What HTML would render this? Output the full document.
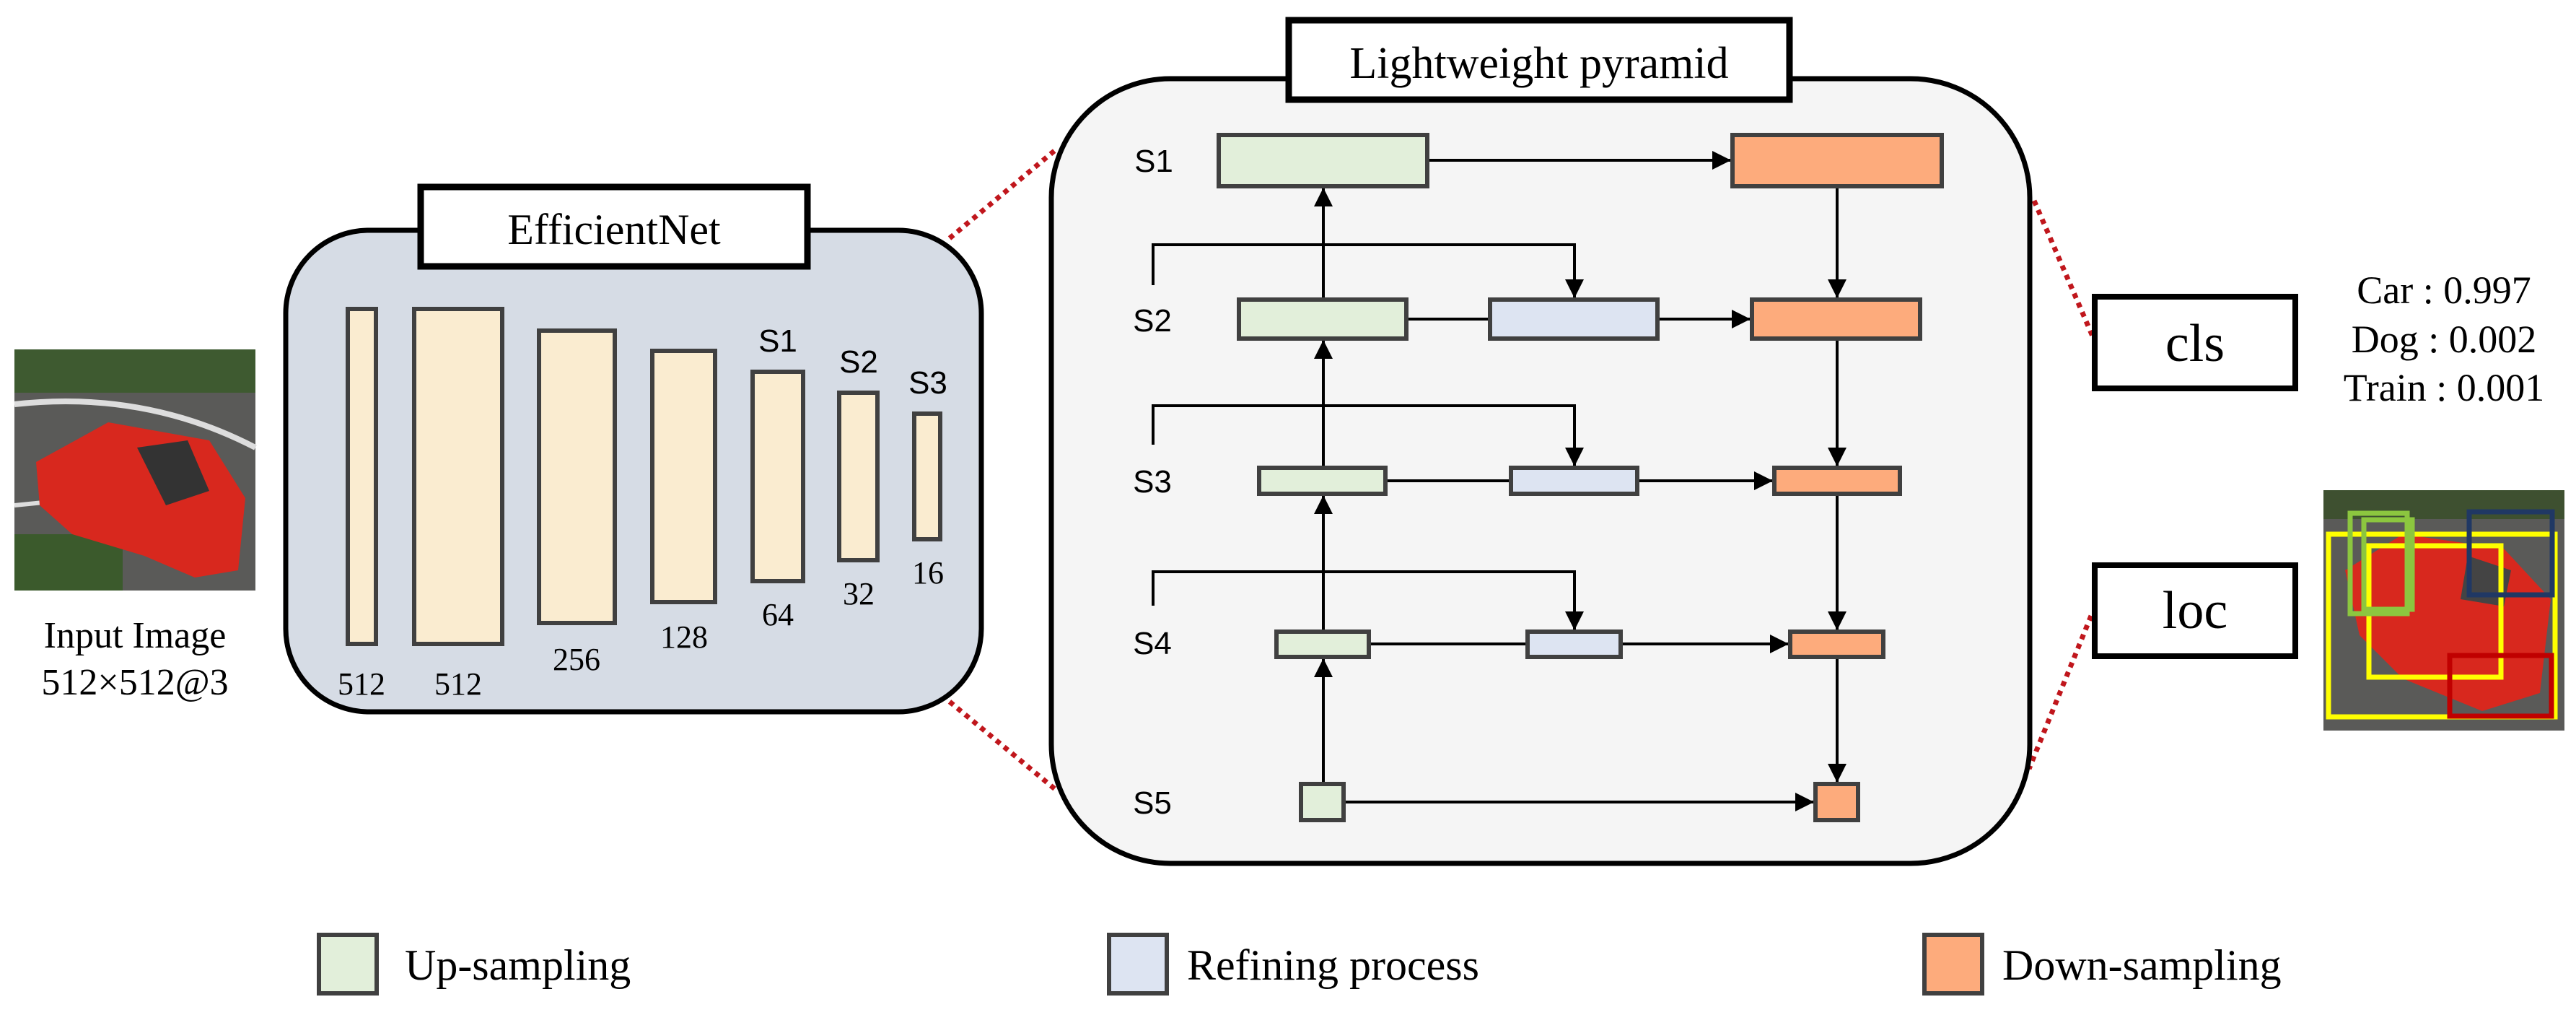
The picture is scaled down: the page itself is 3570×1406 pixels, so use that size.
<!DOCTYPE html>
<html><head><meta charset="utf-8"><style>
html,body{margin:0;padding:0;background:#fff;}
svg{display:block;}
text{font-family:"Liberation Serif",serif;fill:#000;}
.s{font-family:"Liberation Sans",sans-serif;}
</style></head><body>
<svg width="3570" height="1406" viewBox="0 0 3570 1406" xmlns="http://www.w3.org/2000/svg">
<defs>
<marker id="a" viewBox="0 0 10 10" refX="10" refY="5" markerWidth="26" markerHeight="26" markerUnits="userSpaceOnUse" orient="auto"><path d="M0,0 L10,5 L0,10 z" fill="#000"/></marker>
</defs>

<!-- input image -->
<g>
<rect x="20" y="484" width="334" height="334" fill="#5a5a58"/>
<rect x="20" y="484" width="334" height="60" fill="#3e5a30"/>
<path d="M20,560 Q200,540 354,620" stroke="#ddd" stroke-width="8" fill="none"/>
<path d="M20,700 L120,690" stroke="#ddd" stroke-width="6"/>
<rect x="20" y="740" width="150" height="78" fill="#3b5a2c"/>
<path d="M50,640 L150,585 L290,610 L340,690 L330,790 L270,800 L200,770 L100,740 L55,700 Z" fill="#d8281e"/>
<path d="M190,620 L260,610 L290,680 L230,700 Z" fill="#333"/>
</g>
<text x="187" y="897" font-size="52" text-anchor="middle">Input Image</text>
<text x="187" y="962" font-size="52" text-anchor="middle">512×512@3</text>

<!-- EfficientNet -->
<rect x="396" y="319" width="964" height="667" rx="115" fill="#d6dce5" stroke="#000" stroke-width="7"/>
<rect x="583" y="259" width="536" height="110" fill="#fff" stroke="#000" stroke-width="9"/>
<text x="851" y="338" font-size="60" text-anchor="middle">EfficientNet</text>
<g fill="#faecd0" stroke="#404040" stroke-width="6">
<rect x="482" y="428" width="39" height="464"/>
<rect x="574" y="428" width="122" height="464"/>
<rect x="747" y="458" width="105" height="405"/>
<rect x="904" y="486" width="87" height="348"/>
<rect x="1043" y="515" width="70" height="290"/>
<rect x="1163" y="544" width="53" height="232"/>
<rect x="1267" y="573" width="36" height="174"/>
</g>
<g font-size="44" text-anchor="middle">
<text x="501" y="962">512</text>
<text x="635" y="962">512</text>
<text x="799" y="928">256</text>
<text x="948" y="897">128</text>
<text x="1078" y="866">64</text>
<text x="1190" y="837">32</text>
<text x="1286" y="808">16</text>
</g>
<g font-size="44" class="s" text-anchor="middle">
<text x="1078" y="487" class="s">S1</text>
<text x="1190" y="516" class="s">S2</text>
<text x="1286" y="545" class="s">S3</text>
</g>

<!-- dotted connectors -->
<g stroke="#c0161c" stroke-width="7" stroke-dasharray="7,7" fill="none">
<line x1="1316" y1="330" x2="1466" y2="205"/>
<line x1="1316" y1="972" x2="1462" y2="1093"/>
<line x1="2819" y1="278" x2="2901" y2="468"/>
<line x1="2898" y1="853" x2="2812" y2="1065"/>
</g>

<!-- pyramid -->
<rect x="1457" y="109" width="1356" height="1087" rx="165" fill="#f5f5f5" stroke="#000" stroke-width="7"/>
<rect x="1786" y="28" width="694" height="110" fill="#fff" stroke="#000" stroke-width="9"/>
<text x="2133" y="108" font-size="62" text-anchor="middle">Lightweight pyramid</text>

<g font-size="44" class="s" text-anchor="middle">
<text x="1599" y="238" class="s">S1</text>
<text x="1597" y="459" class="s">S2</text>
<text x="1597" y="682" class="s">S3</text>
<text x="1597" y="906" class="s">S4</text>
<text x="1597" y="1127" class="s">S5</text>
</g>

<g stroke="#000" stroke-width="4" fill="none">
<line x1="1834" y1="415" x2="1834" y2="260" marker-end="url(#a)"/>
<line x1="1834" y1="648" x2="1834" y2="471" marker-end="url(#a)"/>
<line x1="1834" y1="875" x2="1834" y2="686" marker-end="url(#a)"/>
<line x1="1834" y1="1086" x2="1834" y2="912" marker-end="url(#a)"/>
<line x1="2546" y1="258" x2="2546" y2="413" marker-end="url(#a)"/>
<line x1="2546" y1="469" x2="2546" y2="646" marker-end="url(#a)"/>
<line x1="2546" y1="684" x2="2546" y2="873" marker-end="url(#a)"/>
<line x1="2546" y1="910" x2="2546" y2="1084" marker-end="url(#a)"/>
<line x1="1978" y1="222" x2="2399" y2="222" marker-end="url(#a)"/>
<line x1="1949" y1="442" x2="2065" y2="442"/>
<line x1="2297" y1="442" x2="2426" y2="442" marker-end="url(#a)"/>
<line x1="1920" y1="666" x2="2094" y2="666"/>
<line x1="2269" y1="666" x2="2457" y2="666" marker-end="url(#a)"/>
<line x1="1897" y1="892" x2="2117" y2="892"/>
<line x1="2246" y1="892" x2="2479" y2="892" marker-end="url(#a)"/>
<line x1="1862" y1="1111" x2="2514" y2="1111" marker-end="url(#a)"/>
<polyline points="1598,395 1598,339 2182,339 2182,413" marker-end="url(#a)"/>
<polyline points="1598,616 1598,562 2182,562 2182,646" marker-end="url(#a)"/>
<polyline points="1598,839 1598,792 2182,792 2182,873" marker-end="url(#a)"/>
</g>

<g stroke="#404040" stroke-width="6">
<rect x="1689" y="187" width="289" height="71" fill="#e2efda"/>
<rect x="2401" y="187" width="290" height="71" fill="#fdab7c"/>
<rect x="1717" y="415" width="232" height="54" fill="#e2efda"/>
<rect x="2065" y="415" width="232" height="54" fill="#dde4f2"/>
<rect x="2428" y="415" width="233" height="54" fill="#fdab7c"/>
<rect x="1745" y="648" width="175" height="36" fill="#e2efda"/>
<rect x="2094" y="648" width="175" height="36" fill="#dde4f2"/>
<rect x="2459" y="648" width="174" height="36" fill="#fdab7c"/>
<rect x="1769" y="875" width="128" height="35" fill="#e2efda"/>
<rect x="2117" y="875" width="129" height="35" fill="#dde4f2"/>
<rect x="2481" y="875" width="129" height="35" fill="#fdab7c"/>
<rect x="1803" y="1086" width="59" height="50" fill="#e2efda"/>
<rect x="2516" y="1086" width="59" height="50" fill="#fdab7c"/>
</g>

<!-- cls / loc -->
<rect x="2903" y="411" width="278" height="127" fill="#fff" stroke="#000" stroke-width="8"/>
<text x="3042" y="500" font-size="74" text-anchor="middle">cls</text>
<rect x="2903" y="783" width="278" height="126" fill="#fff" stroke="#000" stroke-width="8"/>
<text x="3042" y="870" font-size="74" text-anchor="middle">loc</text>
<g font-size="54" text-anchor="middle">
<text x="3387" y="420">Car : 0.997</text>
<text x="3387" y="488">Dog : 0.002</text>
<text x="3387" y="555">Train : 0.001</text>
</g>

<!-- detection image -->
<rect x="3220" y="679" width="334" height="333" fill="#5a5a58"/>
<rect x="3220" y="679" width="334" height="40" fill="#3e5030"/>
<path d="M3250,790 L3330,740 L3470,760 L3535,830 L3520,960 L3440,985 L3330,940 L3270,880 Z" fill="#d8281e"/>
<path d="M3420,770 L3480,790 L3470,840 L3410,830 Z" fill="#444"/>
<g fill="none" stroke-width="7">
<rect x="3227" y="740" width="314" height="253" stroke="#ffff00"/>
<rect x="3283" y="756" width="183" height="182" stroke="#ffff00"/>
<rect x="3257" y="711" width="79" height="139" stroke="#8cc63f"/>
<rect x="3276" y="720" width="67" height="124" stroke="#8cc63f"/>
<rect x="3422" y="709" width="115" height="115" stroke="#203864"/>
<rect x="3395" y="908" width="141" height="84" stroke="#c00000"/>
</g>

<!-- legend -->
<g stroke="#404040" stroke-width="6">
<rect x="442" y="1295" width="80" height="81" fill="#e2efda"/>
<rect x="1537" y="1295" width="80" height="81" fill="#dde4f2"/>
<rect x="2667" y="1295" width="80" height="81" fill="#fdab7c"/>
</g>
<g font-size="60">
<text x="561" y="1357">Up-sampling</text>
<text x="1645" y="1357">Refining process</text>
<text x="2775" y="1357">Down-sampling</text>
</g>
</svg>
</body></html>
